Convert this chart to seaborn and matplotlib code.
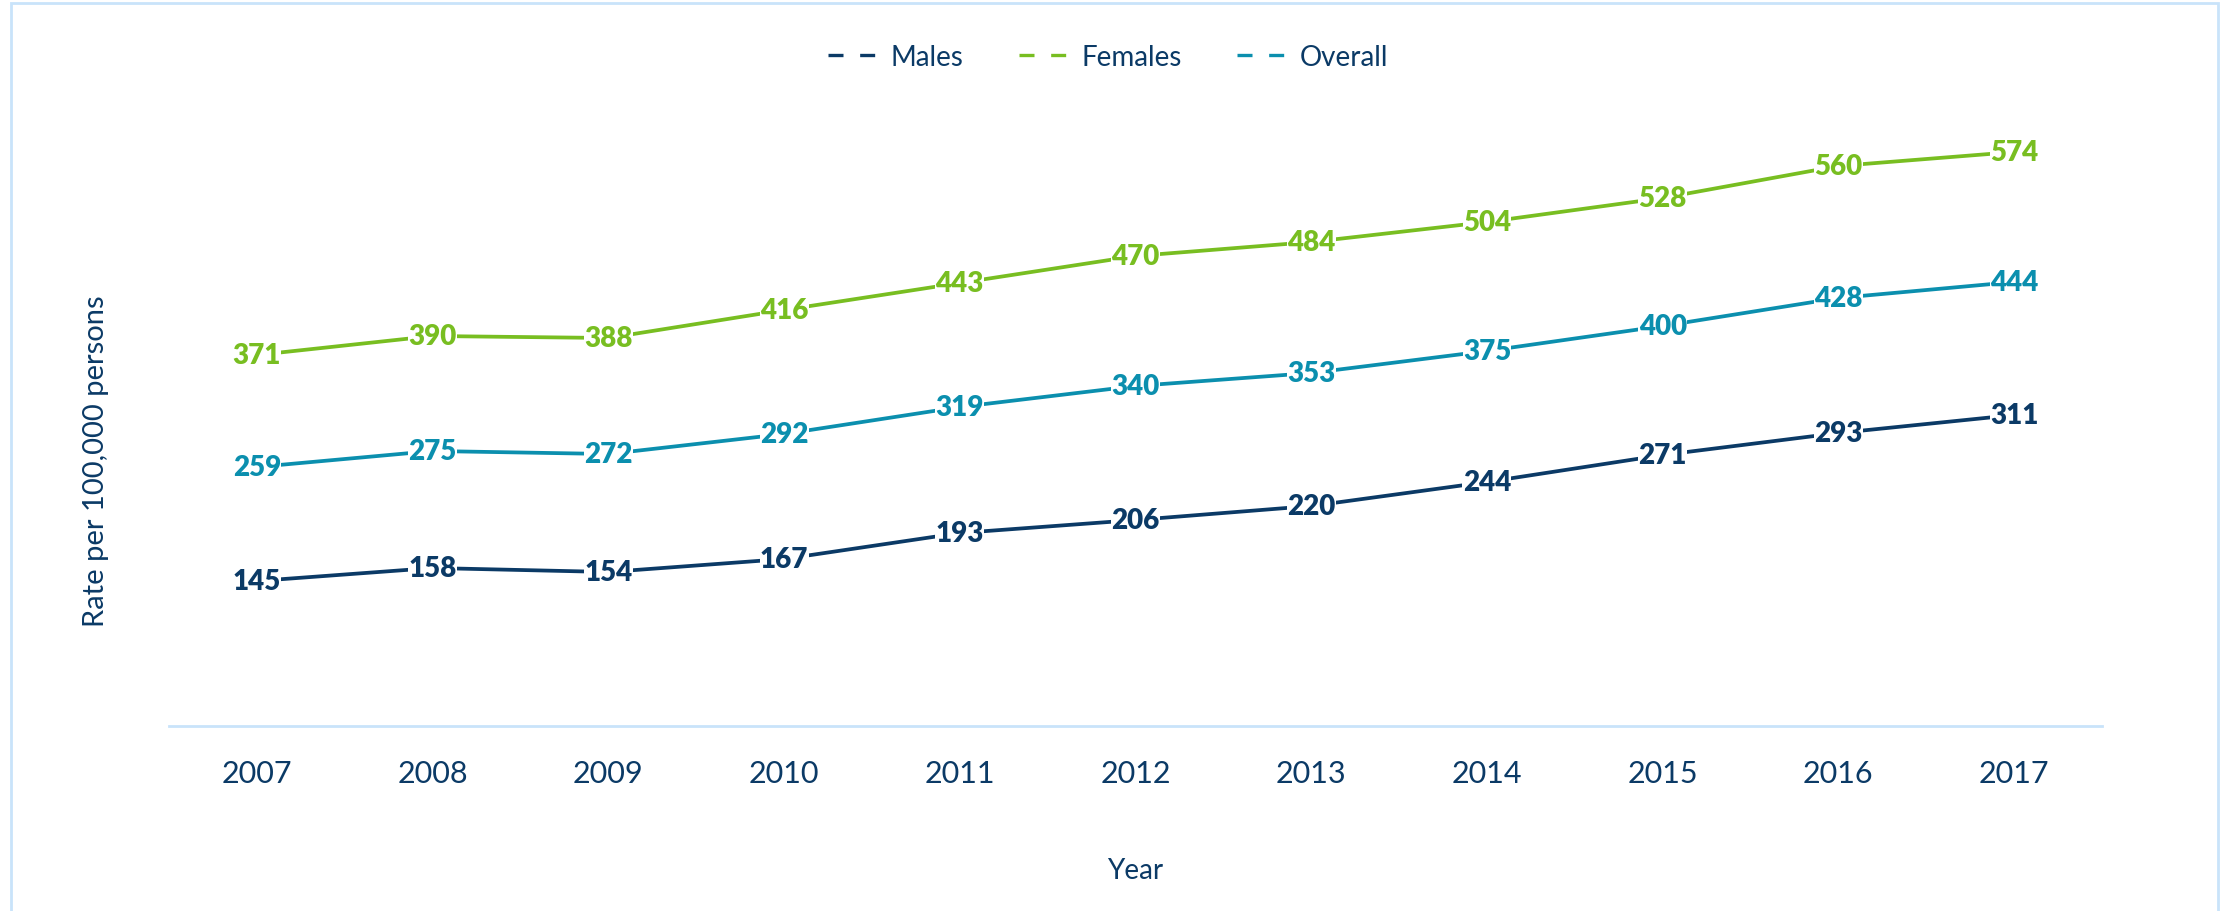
import matplotlib.pyplot as plt
import pandas as pd
import seaborn as sns
from matplotlib.lines import Line2D
from matplotlib.patches import Rectangle

sns.set_theme(style="white")
plt.rcParams['font.family'] = ['Lato', 'DejaVu Sans']

# data
years = ['2007', '2008', '2009', '2010', '2011', '2012', '2013', '2014', '2015', '2016', '2017']
males = [145, 158, 154, 167, 193, 206, 220, 244, 271, 293, 311]
females = [371, 390, 388, 416, 443, 470, 484, 504, 528, 560, 574]
overall = [259, 275, 272, 292, 319, 340, 353, 375, 400, 428, 444]

series = ['Males', 'Females', 'Overall']
palette = {'Males': '#0B3A66', 'Females': '#78BE21', 'Overall': '#0B8FAE'}
text_col = '#0B3A66'
frame_col = '#C9E3FA'

df = pd.DataFrame({'Year': years * 3,
                   'Series': ['Males'] * 11 + ['Females'] * 11 + ['Overall'] * 11,
                   'Rate': males + females + overall})

fig = plt.figure(figsize=(22.31, 9.12), dpi=100)
ax = fig.add_axes([169 / 2231, 185 / 912, (2102 - 169) / 2231, 700 / 912])

sns.lineplot(data=df, x='Year', y='Rate', hue='Series', palette=palette,
             hue_order=series, linewidth=2.7, ax=ax, legend=False, sort=False)

# value labels centred on the points, white box hides the line behind
for name, vals in zip(series, [males, females, overall]):
    for i, v in enumerate(vals):
        ax.text(i, v, str(v), ha='center', va='center', fontsize=20,
                fontweight='heavy', color=palette[name], zorder=5,
                bbox=dict(facecolor='white', edgecolor='none', pad=0.3))

ax.set_xlim(-0.5, 10.5)
ax.set_ylim(0, 700)
ax.set_yticks([])
for s in ['top', 'right', 'left']:
    ax.spines[s].set_visible(False)
ax.spines['bottom'].set_color(frame_col)
ax.spines['bottom'].set_linewidth(2)
ax.tick_params(axis='x', length=0, pad=24, labelsize=22, labelcolor=text_col)

ax.set_xlabel('Year', fontsize=20, color=text_col, labelpad=50)
ax.set_ylabel('Rate per 100,000 persons', fontsize=21, color=text_col)
ax.yaxis.set_label_coords(-0.031, 0.38, transform=ax.transAxes)

handles = [Line2D([], [], color=palette[n], linewidth=2.4, linestyle=(0, (4.5, 5)))
           for n in series]
fig.legend(handles, series, loc='center', bbox_to_anchor=(1108 / 2231, 1 - 58 / 912),
           ncol=3, frameon=False, fontsize=20, labelcolor=text_col,
           handlelength=1.75, handletextpad=0.5, columnspacing=2.0)

# light outer frame
fig.patches.append(Rectangle((11 / 2231, -0.05), (2218 - 11) / 2231, 1.05 - 4 / 912,
                             transform=fig.transFigure, fill=False,
                             edgecolor=frame_col, linewidth=2))

fig.savefig('out.png', dpi=100)
